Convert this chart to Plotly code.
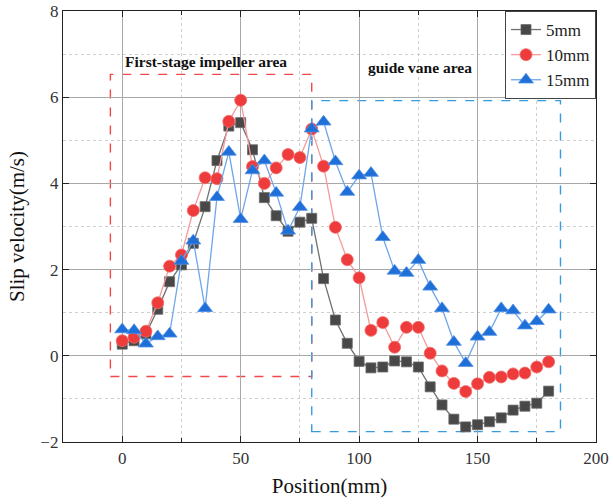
import plotly.graph_objects as go

# Measurement positions along the pump (mm)
position = list(range(0, 185, 5))

# Slip velocity (m/s) for three particle sizes
slip_5mm = [0.27, 0.35, 0.51, 1.08, 1.72, 2.11, 2.61, 3.46, 4.53, 5.33, 5.41, 4.78,
            3.67, 3.25, 2.89, 3.10, 3.19, 1.79, 0.83, 0.29, -0.13, -0.28, -0.26, -0.12,
            -0.14, -0.26, -0.72, -1.14, -1.47, -1.65, -1.60, -1.53, -1.44, -1.26, -1.17,
            -1.10, -0.82]
slip_10mm = [0.35, 0.43, 0.57, 1.23, 2.08, 2.34, 3.37, 4.13, 4.11, 5.44, 5.93, 4.39,
             4.00, 4.36, 4.67, 4.60, 5.26, 4.40, 2.98, 2.23, 1.81, 0.59, 0.77, 0.20,
             0.66, 0.66, 0.06, -0.35, -0.64, -0.83, -0.65, -0.50, -0.49, -0.42, -0.40,
             -0.26, -0.14]
slip_15mm = [0.61, 0.59, 0.28, 0.45, 0.51, 2.20, 2.67, 1.10, 3.68, 4.73, 3.17, 4.30,
             4.53, 3.78, 2.90, 3.45, 5.27, 5.43, 4.51, 3.80, 4.18, 4.24, 2.75, 1.97,
             1.92, 2.22, 1.60, 1.10, 0.32, -0.17, 0.44, 0.55, 1.10, 1.05, 0.70, 0.80,
             1.07]

series_names = ["5mm", "10mm", "15mm"]

# Highlighted regions: (x0, x1, y0, y1)
impeller_box = (-5, 80, -0.48, 6.53)
guide_vane_box = (80, 185, -1.76, 5.92)

serif = "Liberation Serif, Times New Roman, serif"

fig = go.Figure()

fig.add_trace(go.Scatter(
    x=position, y=slip_5mm, name=series_names[0], mode="lines+markers",
    line=dict(color="#707070", width=1.3),
    marker=dict(symbol="square", size=10, color="#484848",
                line=dict(color="#6a6a6a", width=0.8)),
))
fig.add_trace(go.Scatter(
    x=position, y=slip_10mm, name=series_names[1], mode="lines+markers",
    line=dict(color="#f49a9a", width=1.3),
    marker=dict(symbol="circle", size=12, color="#ee3b3b",
                line=dict(color="#f26b6b", width=0.8)),
))
fig.add_trace(go.Scatter(
    x=position, y=slip_15mm, name=series_names[2], mode="lines+markers",
    line=dict(color="#6ea6ea", width=1.3),
    marker=dict(symbol="triangle-up", size=13, color="#1f6fd8",
                line=dict(color="#4f8fe4", width=0.8)),
))

# Dashed region outlines
fig.add_shape(type="rect", x0=impeller_box[0], x1=impeller_box[1],
              y0=impeller_box[2], y1=impeller_box[3],
              line=dict(color="#f04848", width=1.4, dash="dash"), layer="below")
fig.add_shape(type="rect", x0=guide_vane_box[0], x1=guide_vane_box[1],
              y0=guide_vane_box[2], y1=guide_vane_box[3],
              line=dict(color="#3a9ae0", width=1.4, dash="dash"), layer="below")

fig.add_annotation(x=35.5, y=6.82, text="<b>First-stage impeller area</b>",
                   showarrow=False, font=dict(family=serif, size=15.5, color="#111"))
fig.add_annotation(x=125.6, y=6.68, text="<b>guide vane area</b>",
                   showarrow=False, font=dict(family=serif, size=15.5, color="#111"))

axis_common = dict(
    showline=True, linecolor="#222", linewidth=1.3, mirror="ticks",
    ticks="inside", ticklen=6, tickwidth=1.3, tickcolor="#222",
    showgrid=True, gridcolor="#a8a8a8", gridwidth=1, zeroline=False,
    tickfont=dict(family=serif, size=17, color="#333"),
    automargin=False,
)

fig.update_xaxes(
    range=[-25, 200], tickvals=[0, 50, 100, 150, 200],
    title=dict(text="Position(mm)", font=dict(family=serif, size=21, color="#111"),
               standoff=11),
    minor=dict(tickvals=[-25, 25, 75, 125, 175], ticks="inside", ticklen=4,
               tickcolor="#222", showgrid=True, gridcolor="#cfcfcf", griddash="dot"),
    **axis_common,
)
fig.update_yaxes(
    range=[-2, 8], tickvals=[-2, 0, 2, 4, 6, 8],
    title=dict(text="Slip velocity(m/s)", font=dict(family=serif, size=21, color="#111"),
               standoff=10),
    minor=dict(tickvals=[-1, 1, 3, 5, 7], ticks="", showgrid=True,
               gridcolor="#cfcfcf", griddash="dot"),
    **axis_common,
)

fig.update_layout(
    width=613, height=504,
    margin=dict(l=63, r=17, t=11, b=62),
    paper_bgcolor="white", plot_bgcolor="white",
    legend=dict(x=1, y=1, xanchor="right", yanchor="top",
                bgcolor="white", bordercolor="#444", borderwidth=1,
                font=dict(family=serif, size=17, color="#222"),
                itemwidth=30, tracegroupgap=0),
    showlegend=True,
)

fig.write_html("out.html")
